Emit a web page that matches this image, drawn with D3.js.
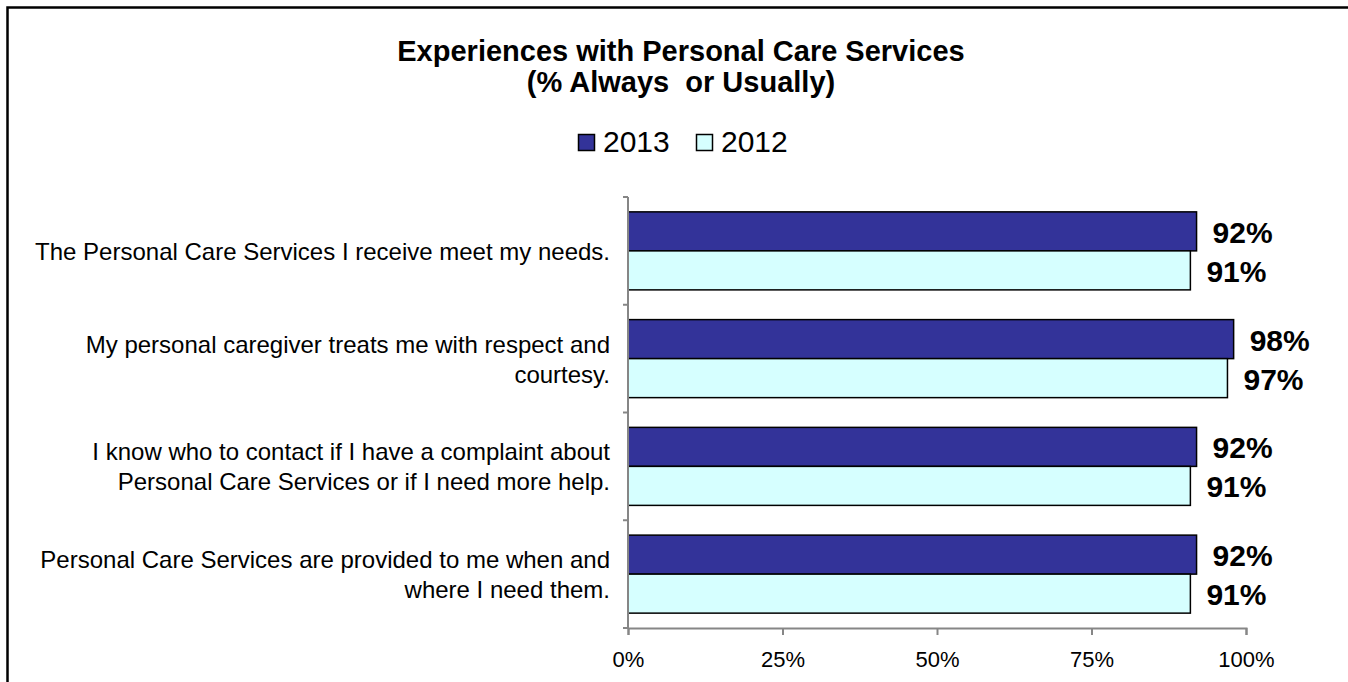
<!DOCTYPE html>
<html>
<head>
<meta charset="utf-8">
<script src="https://cdn.jsdelivr.net/npm/d3@7"></script>
<style>
  html, body { margin: 0; padding: 0; background: #fff; }
  svg { display: block; font-family: "Liberation Sans", Arial, sans-serif; }
</style>
</head>
<body>
<svg id="chart" width="1348" height="682"></svg>
<script>
// Survey items (one per row, top to bottom)
const categories = [
  ["The Personal Care Services I receive meet my needs."],
  ["My personal caregiver treats me with respect and", "courtesy."],
  ["I know who to contact if I have a complaint about", "Personal Care Services or if I need more help."],
  ["Personal Care Services are provided to me when and", "where I need them."]
];
const seriesNames = ["2013", "2012"];
const values2013 = [92, 98, 92, 92];
const values2012 = [91, 97, 91, 91];
const xTickValues = [0, 25, 50, 75, 100];
const seriesColors = ["#333399", "#d6ffff"];

const svg = d3.select("#chart");

// Outer chart frame
svg.append("rect")
  .attr("x", 7.5).attr("y", 7.5)
  .attr("width", 1400).attr("height", 720)
  .attr("fill", "none").attr("stroke", "#000").attr("stroke-width", 2.5);

// Title
const title = svg.append("text")
  .attr("text-anchor", "middle")
  .attr("font-weight", "bold")
  .attr("font-size", 29)
  .attr("fill", "#000")
  .style("white-space", "pre");
title.append("tspan").attr("x", 681).attr("y", 61).text("Experiences with Personal Care Services");
title.append("tspan").attr("x", 681).attr("y", 92).text("(% Always  or Usually)");

// Scales
const x = d3.scaleLinear().domain([0, 100]).range([628, 1246]);
const y = d3.scaleBand()
  .domain(d3.range(categories.length))
  .range([197, 628])
  .paddingInner(0.276)
  .paddingOuter(0.138);
const ySub = d3.scaleBand().domain(seriesNames).range([0, y.bandwidth()]);

// Legend
const legend = svg.append("g").attr("font-size", 30);
const legendItems = [
  { name: seriesNames[0], color: seriesColors[0], x: 578 },
  { name: seriesNames[1], color: seriesColors[1], x: 696 }
];
legendItems.forEach(d => {
  legend.append("rect")
    .attr("x", d.x + 0.5).attr("y", 134.5)
    .attr("width", 16).attr("height", 16)
    .attr("fill", d.color).attr("stroke", "#000").attr("stroke-width", 1.5);
  legend.append("text")
    .attr("x", d.x + 25).attr("y", 152)
    .attr("fill", "#000")
    .text(d.name);
});

// Bars
const rows = categories.map((c, i) => ({ i, vals: [values2013[i], values2012[i]] }));
const groups = svg.append("g").selectAll("g")
  .data(rows).join("g")
  .attr("transform", d => `translate(0,${y(d.i)})`);

groups.selectAll("rect")
  .data(d => d.vals.map((v, k) => ({ v, k })))
  .join("rect")
  .attr("x", x(0))
  .attr("y", d => ySub(seriesNames[d.k]))
  .attr("width", d => x(d.v) - x(0))
  .attr("height", ySub.bandwidth())
  .attr("fill", d => seriesColors[d.k])
  .attr("stroke", "#000")
  .attr("stroke-width", 1.5);

// Value labels
groups.selectAll("text.value")
  .data(d => d.vals.map((v, k) => ({ v, k })))
  .join("text")
  .attr("class", "value")
  .attr("x", d => x(d.v) + 16)
  .attr("y", d => ySub(seriesNames[d.k]) + ySub.bandwidth() / 2 + 1)
  .attr("dominant-baseline", "central")
  .attr("font-weight", "bold")
  .attr("font-size", 30)
  .attr("fill", "#000")
  .text(d => d.v + "%");

// Category axis (tick marks between categories)
const axisColor = "#868686";
const step = y.step();
const yAxisG = svg.append("g");
yAxisG.append("line")
  .attr("x1", x(0)).attr("x2", x(0))
  .attr("y1", 197).attr("y2", 628)
  .attr("stroke", axisColor).attr("stroke-width", 2);
yAxisG.selectAll("line.tick")
  .data(d3.range(categories.length + 1))
  .join("line")
  .attr("class", "tick")
  .attr("x1", x(0) - 5).attr("x2", x(0))
  .attr("y1", i => 197 + i * step).attr("y2", i => 197 + i * step)
  .attr("stroke", axisColor).attr("stroke-width", 2);

// Category labels
const catLabels = svg.append("g")
  .attr("font-size", 24)
  .attr("fill", "#000")
  .attr("text-anchor", "end");
categories.forEach((lines, i) => {
  const cy = y(i) + y.bandwidth() / 2;
  const lh = 30;
  const t = catLabels.append("text").attr("dominant-baseline", "central");
  lines.forEach((ln, j) => {
    t.append("tspan")
      .attr("x", 610)
      .attr("y", cy + (j - (lines.length - 1) / 2) * lh)
      .text(ln);
  });
});

// Value axis
const xAxis = d3.axisBottom(x)
  .tickValues(xTickValues)
  .tickSize(7)
  .tickPadding(16)
  .tickFormat(d => d + "%");
const xAxisG = svg.append("g")
  .attr("transform", "translate(0,628)")
  .call(xAxis);
xAxisG.select(".domain").attr("stroke", axisColor).attr("stroke-width", 2);
xAxisG.selectAll(".tick line").attr("stroke", axisColor).attr("stroke-width", 2);
xAxisG.selectAll(".tick text")
  .attr("font-size", 22)
  .attr("font-family", "\"Liberation Sans\", Arial, sans-serif")
  .attr("fill", "#000");
</script>
</body>
</html>
